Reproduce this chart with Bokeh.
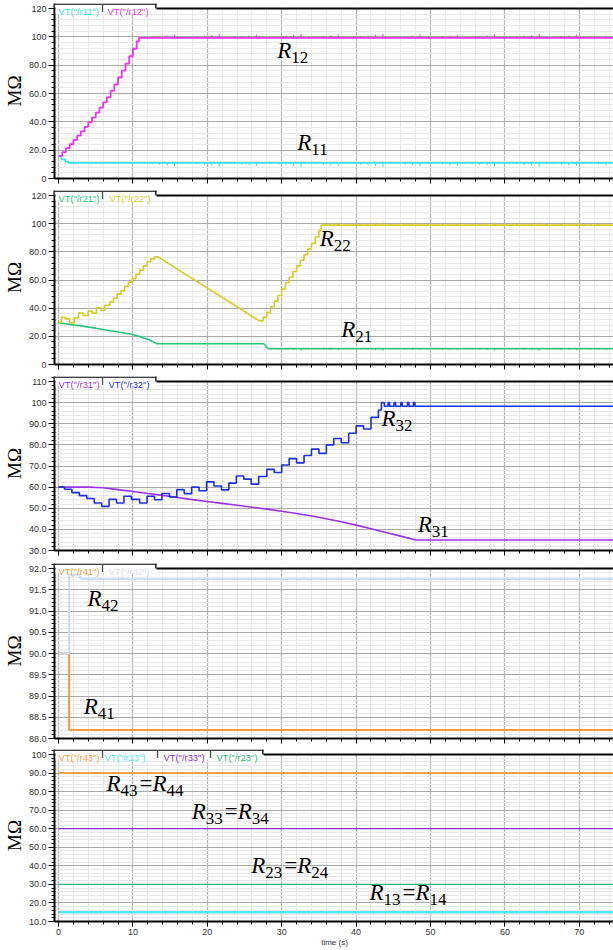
import numpy as np
from bokeh.plotting import figure
from bokeh.models import Label, Span, Range1d, SingleIntervalTicker, CustomJSTickFormatter, BoxAnnotation
from bokeh.layouts import column
from bokeh.embed import file_html
from bokeh.resources import INLINE

# ---------------- data ----------------
t_start = 0.0
t_end = 75.0

spike_t = [11.6, 12.6, 13.6, 14.6, 15.6, 16.6, 17.6, 18.6, 19.6, 20.6, 21.6, 22.6, 23.6, 24.6, 25.6,
           26.6, 27.6, 28.6, 29.6, 30.6, 31.6, 32.6, 33.6, 34.6, 35.6, 36.6, 37.6, 38.6, 39.6, 40.6,
           41.6, 42.6, 43.6, 44.6, 45.6, 46.6, 47.6, 48.6, 49.6, 50.6, 51.6, 52.6, 53.6, 54.6, 55.6,
           56.6, 57.6, 58.6, 59.6, 60.6, 61.6, 62.6, 63.6, 64.6, 65.6, 66.6, 67.6, 68.6, 69.6, 70.6,
           71.6, 72.6, 73.6, 74.6]
spike_h = [0.7, 1.0, 1.3, 1.7, 2.3, 0.6, 0.9, 1.2, 1.6, 2.0, 2.8, 0.7, 1.0, 1.3, 1.7, 2.2,
           0.6, 0.9, 1.2, 1.6, 2.1, 2.9, 0.7, 1.0, 1.4, 1.8, 2.3, 0.6, 0.9, 1.3, 1.7, 2.2, 2.8,
           0.7, 1.0, 1.3, 1.7, 2.3, 0.6, 0.9, 1.2, 1.6, 2.1, 0.7, 1.0, 1.3, 1.8, 2.4,
           0.6, 0.9, 1.2, 1.6, 2.0, 2.7, 0.7, 1.0, 1.3, 1.7, 2.2, 0.6, 0.9, 1.2, 1.6, 2.0]

# panel 1
r12_t = [0.0, 0.5, 1.0, 1.5, 2.0, 2.5, 3.0, 3.5, 4.0, 4.5, 5.0, 5.5, 6.0, 6.5, 7.0, 7.5, 8.0,
         8.5, 9.0, 9.5, 10.0, 10.5, 10.8, 75.0]
r12_v = [15.8, 18.6, 21.5, 24.3, 27.2, 30.2, 33.3, 36.5, 39.7, 43.0, 46.5, 50.1, 53.8, 57.5,
         61.8, 66.5, 71.3, 76.2, 81.1, 86.3, 91.6, 96.8, 99.2, 99.2]
r12_flat = 99.2
r12_flat_from = 11.0
r11_t = [0.0, 0.4, 0.9, 1.3, 75.0]
r11_v = [15.6, 13.5, 11.9, 11.0, 11.0]
r11_flat = 11.0

# panel 2
r22a_t = [0.0, 0.4, 0.9, 1.5, 2.1, 2.7, 3.3, 4.0, 4.5, 5.1, 5.7, 6.2, 6.9, 7.4, 7.9, 8.4, 8.9,
          9.4, 9.9, 10.4, 10.9, 11.4, 11.9, 12.4, 12.9, 13.2]
r22a_v = [30.0, 33.5, 32.4, 29.5, 33.0, 36.7, 34.8, 37.9, 36.5, 40.3, 38.3, 42.0, 44.5, 47.0,
          50.0, 52.5, 55.5, 58.5, 61.0, 64.0, 67.0, 70.0, 73.0, 75.0, 76.5, 77.0]
r22b_t = [13.2, 27.0]
r22b_v = [77.0, 31.0]
r22c_t = [27.0, 27.5, 28.0, 28.5, 29.0, 29.5, 30.0, 30.5, 31.0, 31.5, 32.0, 32.5, 33.0, 33.5,
          34.0, 34.5, 35.0, 35.3, 75.0]
r22c_v = [31.0, 33.5, 37.0, 41.0, 45.0, 49.0, 53.5, 58.0, 62.0, 66.0, 70.0, 74.0, 78.0, 82.0,
          86.0, 90.5, 95.0, 99.0, 99.0]
r22_flat = 99.0
r22_flat_from = 35.5
r21_t = [0.0, 5.0, 10.0, 12.2, 13.2, 27.6, 28.2, 75.0]
r21_v = [29.6, 25.8, 21.3, 17.5, 14.7, 14.7, 11.2, 11.2]
r21_flat = 11.2
r21_flat_from = 28.5

# panel 3
r32_t = [0.0, 0.8, 1.8, 2.8, 3.8, 4.8, 5.8, 6.8, 7.8, 8.8, 9.8, 10.9, 11.9, 12.9, 13.9, 14.9,
         15.9, 16.9, 17.9, 18.9, 19.9, 20.9, 21.9, 22.9, 23.9, 24.9, 25.9, 26.9, 28.0, 29.0,
         30.0, 31.0, 32.0, 33.0, 34.0, 35.0, 36.0, 37.0, 38.0, 39.0, 40.0, 41.0, 42.0, 43.0,
         43.4, 43.8, 44.3, 44.5, 45.1, 45.3, 46.0, 46.2, 46.9, 47.1, 47.7, 47.9, 75.0]
r32_v = [60.0, 59.0, 57.4, 56.0, 54.6, 52.5, 50.9, 54.2, 52.5, 55.7, 54.2, 52.5, 55.7, 54.0,
         57.0, 55.3, 58.8, 56.9, 60.0, 58.3, 62.5, 60.5, 58.7, 61.9, 65.3, 63.8, 61.4, 65.0,
         68.4, 66.9, 70.5, 73.5, 71.5, 75.0, 78.0, 76.0, 80.0, 83.0, 81.0, 85.5, 89.0, 87.5,
         93.0, 96.5, 100.0, 98.3, 100.0, 98.3, 100.0, 98.3, 100.0, 98.3, 100.0, 98.3, 100.0,
         98.3, 98.3]
r31_t = [0.0, 4.0, 6.0, 8.0, 10.0, 12.0, 14.0, 16.0, 18.0, 20.0, 22.0, 24.0, 26.0, 28.0, 30.0,
         32.0, 34.0, 36.0, 38.0, 40.0, 42.0, 44.0, 46.0, 47.5, 48.2, 75.0]
r31_v = [60.0, 60.0, 59.7, 58.8, 57.9, 57.0, 56.1, 55.1, 54.1, 53.2, 52.3, 51.4, 50.5, 49.6,
         48.6, 47.5, 46.3, 45.0, 43.6, 42.0, 40.3, 38.5, 36.8, 35.4, 35.0, 35.0]

# panel 4
r41_t = [0.0, 1.43, 1.43, 75.0]
r41_v = [90.0, 90.0, 88.2, 88.2]
r42_t = [0.0, 1.43, 1.43, 2.7, 3.1, 75.0]
r42_v = [90.0, 90.0, 91.86, 91.86, 91.75, 91.75]

# panel 5
const_names = ["r43", "r13", "r33", "r23"]
const_vals = [90.0, 15.0, 60.0, 30.0]

# colours
C = {
    "r11": "#30e4ee", "r12": "#f032f0", "r21": "#22c878", "r22": "#d8cb22",
    "r31": "#a030e8", "r32": "#1e30e0", "r41": "#f59a3c", "r42": "#c9d9f5",
    "r43": "#f5a04a", "r13": "#50eaf3", "r33": "#8c2ccc", "r23": "#30b878",
}
TXT = dict(C)
TXT["r42"] = "#d2def4"

PX_PER_S = 7.44
FRAME_W = 560
X0 = -0.54
X1 = X0 + FRAME_W / PX_PER_S
EXT = 5  # px of frame above the top line (legend tab area)
SANS = "Liberation Sans"
SERIF = "Liberation Serif"


def make_panel(y0, y1, step, H, top, bottom, last=False):
    dy = (y1 - y0) / H
    y_top = y1 + EXT * dy
    p = figure(frame_width=FRAME_W, frame_height=H + EXT, x_range=Range1d(X0, X1),
               y_range=Range1d(y0, y_top), output_backend="svg", toolbar_location=None,
               min_border_left=53, min_border_right=0, min_border_top=top,
               min_border_bottom=bottom)
    p.outline_line_color = None
    p.background_fill_color = "white"
    p.border_fill_color = "white"
    p.xaxis.ticker = SingleIntervalTicker(interval=10, num_minor_ticks=5)
    p.yaxis.ticker = SingleIntervalTicker(interval=step, num_minor_ticks=5)
    p.yaxis.formatter = CustomJSTickFormatter(
        code="return tick === 0 ? '0' : tick.toPrecision(3);")
    for ax in (p.xaxis[0], p.yaxis[0]):
        ax.axis_line_color = "black"
        ax.axis_line_width = 2
        ax.major_tick_line_color = "black"
        ax.minor_tick_line_color = "black"
        ax.major_tick_in = 0
        ax.minor_tick_in = 0
        ax.major_tick_out = 6
        ax.minor_tick_out = 3
        ax.major_label_text_font = SANS
        ax.major_label_text_font_size = "9px"
        ax.major_label_text_color = "#333333"
        ax.major_label_standoff = 2
    p.xaxis.major_tick_out = 5
    p.yaxis.axis_label = "MΩ"
    p.yaxis.axis_label_text_font = SERIF
    p.yaxis.axis_label_text_font_size = "19px"
    p.yaxis.axis_label_text_font_style = "normal"
    p.yaxis.axis_label_text_color = "black"
    p.yaxis.axis_label_standoff = 1
    if last:
        p.xaxis.axis_label = "time (s)"
        p.xaxis.axis_label_text_font = SANS
        p.xaxis.axis_label_text_font_size = "8px"
        p.xaxis.axis_label_text_font_style = "normal"
        p.xaxis.axis_label_text_color = "#333333"
        p.xaxis.axis_label_standoff = 0
    else:
        p.xaxis.major_label_text_font_size = "1px"
        p.xaxis.major_label_text_alpha = 0
        p.xaxis.major_label_standoff = 0
    p.xgrid.grid_line_color = "#b8b8b8"
    p.xgrid.grid_line_width = 1.3
    p.xgrid.minor_grid_line_color = "#e8e8e8"
    p.ygrid.grid_line_color = "#a8a8a8"
    p.ygrid.minor_grid_line_color = "#e8e8e8"
    return p


def finish_panel(p, y0, y1, H, names, item_x, sep_x, tab_right_px):
    dy = (y1 - y0) / H
    dx = 1.0 / PX_PER_S
    y_top = y1 + EXT * dy
    x_tab = X0 + tab_right_px * dx
    # white strip above the top line
    p.add_layout(BoxAnnotation(left=X0, right=X1, bottom=y1, top=y_top,
                               fill_color="white", fill_alpha=1.0, line_alpha=0.0))
    p.add_layout(Span(location=y1, dimension="width", line_color="black", line_width=2))
    # legend tab
    p.add_layout(BoxAnnotation(left=X0 + 1.0 * dx, right=x_tab, bottom=y1 - 5 * dy, top=y_top,
                               fill_color="white", fill_alpha=1.0, line_alpha=0.0))
    p.add_layout(BoxAnnotation(left=X0, right=x_tab, bottom=y_top - 1.3 * dy, top=y_top,
                               fill_color="black", fill_alpha=1.0, line_alpha=0.0))
    p.add_layout(BoxAnnotation(left=x_tab - 1.3 * dx, right=x_tab, bottom=y1, top=y_top,
                               fill_color="black", fill_alpha=1.0, line_alpha=0.0))
    for nm, xo in zip(names, item_x):
        p.add_layout(Label(x=X0, y=y1, x_offset=xo, y_offset=-3.0, text='VT("/%s")' % nm,
                           text_font=SANS, text_font_size="9.4px", text_color=TXT[nm],
                           text_baseline="alphabetic"))
    for xo in sep_x:
        p.add_layout(Label(x=X0, y=y_top, x_offset=xo, y_offset=0, text="|",
                           text_font=SANS, text_font_size="7px", text_font_style="bold",
                           text_color="black", text_baseline="top"))


R_LIFT = 8


def rlabel(p, t, v, subs):
    xo = 0
    for k, s in enumerate(subs):
        if k > 0:
            p.add_layout(Label(x=t, y=v, x_offset=xo + 1, y_offset=R_LIFT, text="=",
                               text_font=SERIF, text_font_size="23px", text_color="black",
                               text_baseline="alphabetic"))
            xo += 14
        p.add_layout(Label(x=t, y=v, x_offset=xo, y_offset=R_LIFT, text="R", text_font=SERIF,
                           text_font_size="23px", text_font_style="italic",
                           text_color="black", text_baseline="alphabetic"))
        xo += 14
        p.add_layout(Label(x=t, y=v, x_offset=xo, y_offset=R_LIFT - 7, text=s,
                           text_font=SERIF, text_font_size="17px", text_color="black",
                           text_baseline="alphabetic"))
        xo += 18


def spikes(p, base, sign, t_from, color, frac):
    ts = [t for t in spike_t if t >= t_from]
    hs = [h for t, h in zip(spike_t, spike_h) if t >= t_from]
    p.segment(x0=ts, y0=[base] * len(ts), x1=ts,
              y1=[base + sign * h * frac for h in hs],
              line_color=color, line_width=1)


H1, H2, H3, H4, H5 = 170, 169, 169, 170, 167

# ---------------- panel 1 ----------------
p1 = make_panel(0, 120, 20, H1, top=3, bottom=11)
p1.step(r11_t, r11_v, mode="after", line_color=C["r11"], line_width=1.6)
spikes(p1, r11_flat, -1, r12_flat_from, C["r11"], 1.0)
p1.step(r12_t, r12_v, mode="after", line_color=C["r12"], line_width=1.8)
spikes(p1, r12_flat, 1, r12_flat_from, C["r12"], 1.0)
rlabel(p1, 29.4, 84.7, ["12"])
rlabel(p1, 32.1, 20.0, ["11"])
finish_panel(p1, 0, 120, H1, ["r11", "r12"], [4, 53], [47], 102)

# ---------------- panel 2 ----------------
p2 = make_panel(0, 120, 20, H2, top=1, bottom=11)
p2.line(r21_t, r21_v, line_color=C["r21"], line_width=1.6)
spikes(p2, r21_flat, -1, r21_flat_from, C["r21"], 0.5)
p2.step(r22a_t, r22a_v, mode="after", line_color=C["r22"], line_width=1.6)
p2.line(r22b_t, r22b_v, line_color=C["r22"], line_width=1.6)
p2.step(r22c_t, r22c_v, mode="after", line_color=C["r22"], line_width=1.6)
spikes(p2, r22_flat, 1, r22_flat_from, C["r22"], 0.8)
rlabel(p2, 35.1, 83.7, ["22"])
rlabel(p2, 38.0, 19.1, ["21"])
finish_panel(p2, 0, 120, H2, ["r21", "r22"], [4, 55], [47], 102)

# ---------------- panel 3 ----------------
p3 = make_panel(30, 110, 10, H3, top=1, bottom=12)
p3.line(r31_t, r31_v, line_color=C["r31"], line_width=1.6)
p3.step(r32_t, r32_v, mode="after", line_color=C["r32"], line_width=1.6)
rlabel(p3, 43.4, 88.6, ["32"])
rlabel(p3, 48.3, 38.6, ["31"])
finish_panel(p3, 30, 110, H3, ["r31", "r32"], [4, 54], [47], 102)

# ---------------- panel 4 ----------------
p4 = make_panel(88, 92, 0.5, H4, top=1, bottom=10)
p4.line(r41_t, r41_v, line_color=C["r41"], line_width=2)
p4.line(r42_t, r42_v, line_color=C["r42"], line_width=2)
rlabel(p4, 3.9, 91.1, ["42"])
rlabel(p4, 3.4, 88.56, ["41"])
finish_panel(p4, 88, 92, H4, ["r41", "r42"], [4, 54], [47], 102)

# ---------------- panel 5 ----------------
p5 = make_panel(10, 100, 10, H5, top=1, bottom=10, last=True)
for nm, v in zip(const_names, const_vals):
    p5.line([t_start, t_end], [v, v], line_color=C[nm],
            line_width=2.5 if nm == "r13" else (2 if nm == "r43" else 1.3))
rlabel(p5, 6.45, 80.3, ["43", "44"])
rlabel(p5, 17.9, 64.8, ["33", "34"])
rlabel(p5, 25.9, 35.8, ["23", "24"])
rlabel(p5, 41.8, 21.2, ["13", "14"])
finish_panel(p5, 10, 100, H5, ["r43", "r13", "r33", "r23"], [4, 50, 109, 162], [47, 102, 155], 209)

layout = column(p1, p2, p3, p4, p5)
open("out.html", "w").write(file_html(layout, INLINE))
